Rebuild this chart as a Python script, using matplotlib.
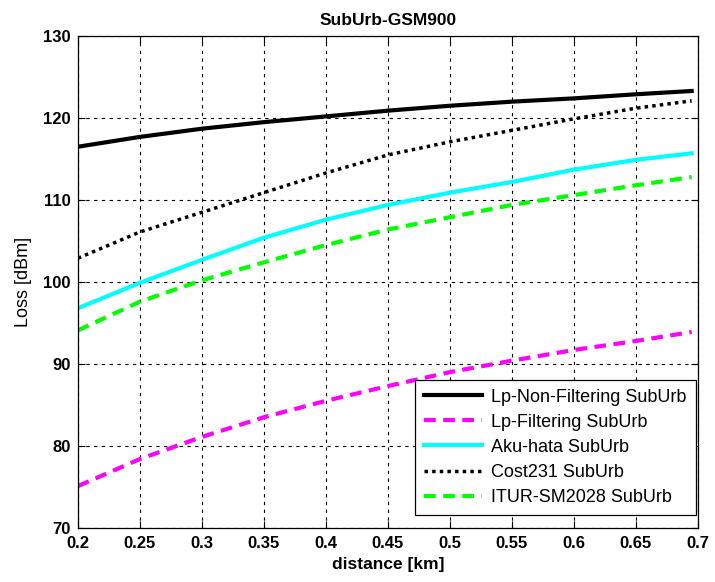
import numpy as np
import matplotlib
matplotlib.use('Agg')
import matplotlib.pyplot as plt

# distance samples (km)
dist = [0.2, 0.25, 0.3, 0.35, 0.4, 0.45, 0.5, 0.55, 0.6, 0.65, 0.695]

lp_nonfilt = [116.5, 117.7, 118.7, 119.5, 120.2, 120.9, 121.5, 122.0, 122.4, 122.9, 123.3]
lp_filt    = [75.1, 78.4, 81.1, 83.5, 85.5, 87.3, 89.0, 90.4, 91.7, 92.8, 93.9]
aku_hata   = [96.8, 99.9, 102.7, 105.4, 107.6, 109.4, 110.9, 112.2, 113.7, 114.9, 115.7]
cost231    = [102.9, 106.1, 108.5, 110.9, 113.3, 115.5, 117.1, 118.5, 119.9, 121.2, 122.1]
itur       = [94.1, 97.6, 100.2, 102.4, 104.5, 106.4, 107.9, 109.4, 110.6, 111.8, 112.8]

xticks = [0.2, 0.25, 0.3, 0.35, 0.4, 0.45, 0.5, 0.55, 0.6, 0.65, 0.7]
yticks = [70, 80, 90, 100, 110, 120, 130]

plt.rcParams['font.family'] = ['Liberation Sans', 'DejaVu Sans']

fig = plt.figure(figsize=(7.15, 5.82), dpi=100, facecolor='white')
ax = fig.add_axes([0.109, 0.093, 0.867, 0.845])

ax.plot(dist, lp_nonfilt, color='black', lw=3.0, label='Lp-Non-Filtering SubUrb')
ax.plot(dist, lp_filt, color='#FF00FF', lw=3.0, ls=(0, (2.8, 1.8)), label='Lp-Filtering SubUrb')
ax.plot(dist, aku_hata, color='#00FFFF', lw=3.0, label='Aku-hata SubUrb')
ax.plot(dist, cost231, color='black', lw=2.5, ls=(0, (1, 1.2)), label='Cost231 SubUrb')
ax.plot(dist, itur, color='#00FF00', lw=3.0, ls=(0, (2.8, 1.8)), label='ITUR-SM2028 SubUrb')

ax.set_xlim(0.2, 0.7)
ax.set_ylim(70, 130)
ax.set_xticks(xticks)
ax.set_xticklabels([f'{t:g}' for t in xticks])
ax.set_yticks(yticks)

ax.grid(True, color='black', ls=(0, (3, 4)), lw=0.8)
ax.tick_params(direction='in', top=True, right=True, length=5, width=0.8,
               labelsize=12)
ax.tick_params(axis='x', pad=6)
ax.tick_params(axis='y', pad=5)
for lab in ax.get_xticklabels() + ax.get_yticklabels():
    lab.set_fontweight('bold')
for s in ax.spines.values():
    s.set_linewidth(0.9)

ax.set_title('SubUrb-GSM900', fontsize=12.5, fontweight='bold', pad=8)
ax.set_xlabel('distance [km]', fontsize=12.5, fontweight='bold', labelpad=4)
ax.set_ylabel('Loss [dBm]', fontsize=13, labelpad=8)

leg = ax.legend(loc='lower right', bbox_to_anchor=(1.005, 0.015), fontsize=13,
                frameon=True, fancybox=False, edgecolor='black', framealpha=1,
                handlelength=3.2, handletextpad=0.5, borderpad=0.5,
                labelspacing=0.45, borderaxespad=0.3)
leg.get_frame().set_linewidth(0.9)

fig.savefig('out.png', dpi=100, facecolor='white')
